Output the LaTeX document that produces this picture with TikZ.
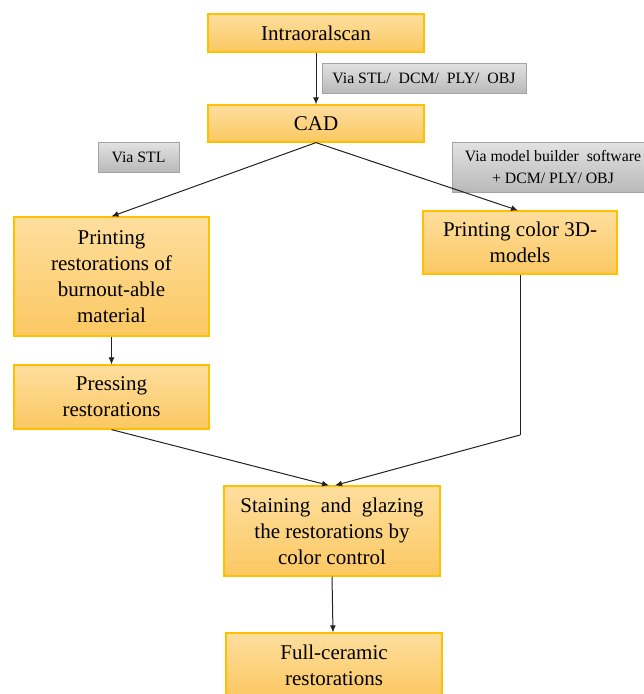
\documentclass[tikz,border=0pt]{standalone}
\usepackage{fontspec}
\newfontfamily\timesfont{Liberation Serif}
\usetikzlibrary{arrows.meta,calc}
\definecolor{boxtop}{HTML}{FEDE9E}
\definecolor{boxbot}{HTML}{FBC862}
\definecolor{boxline}{HTML}{FFC000}
\definecolor{graytop}{HTML}{E2E2E2}
\definecolor{graybot}{HTML}{B9B9B9}
\definecolor{grayline}{HTML}{A3A3A3}
\definecolor{arr}{HTML}{222222}
\tikzset{
  stepbox/.style={draw=boxline, line width=1.2pt, top color=boxtop, bottom color=boxbot,
    align=center, inner sep=2pt, font=\timesfont\fontsize{21}{26}\selectfont},
  tagbox/.style={draw=grayline, line width=1pt, top color=graytop, bottom color=graybot,
    align=center, inner sep=2pt, font=\timesfont\fontsize{15.8}{21.5}\selectfont},
  conn/.style={draw=arr, line width=1pt, -{Latex[length=7pt,width=6pt]}},
  plain/.style={draw=arr, line width=1pt}
}
\begin{document}
\begin{tikzpicture}[x=1pt,y=-1pt]
\useasboundingbox (0,0) rectangle (644,694);
\clip (0,0) rectangle (644,694);
\node[stepbox, minimum width=216pt, minimum height=38pt] (intra) at (316,33) {Intraoralscan};
\node[stepbox, minimum width=216pt, minimum height=37pt] (cad) at (316,123.5) {CAD};
\node[tagbox, minimum width=204pt, minimum height=30pt] (t1) at (424,78) {Via STL/\ \ DCM/\ \ PLY/\ \ OBJ};
\node[tagbox, minimum width=81pt, minimum height=30pt] (t2) at (138.5,157) {Via STL};
\node[tagbox, minimum width=202pt, minimum height=50pt] (t3) at (553,167) {Via model builder\ \ software\\+ DCM/\ PLY/\ OBJ};
\node[stepbox, minimum width=195pt, minimum height=119pt] (left) at (111.5,276.5) {Printing\\restorations of\\burnout-able\\material};
\node[stepbox, minimum width=194pt, minimum height=63pt] (right) at (520,242.5) {Printing color 3D-\\models};
\node[stepbox, minimum width=195pt, minimum height=64pt] (press) at (111.5,397) {Pressing\\restorations};
\node[stepbox, minimum width=216pt, minimum height=90pt] (stain) at (332,531) {Staining\ \ and\ \ glazing\\the restorations\ by\\color control};
\node[stepbox, minimum width=216pt, minimum height=64pt] (full) at (334,665) {Full-ceramic\\restorations};
\coordinate (bend) at (520,435);
\draw[conn] (intra.south) -- (cad.north);
\draw[conn] (cad.south) -- (left.north);
\draw[conn] (cad.south) -- ($(right.north)+(-2,0)$);
\draw[conn] (left.south) -- (press.north);
\draw[conn] (press.south) -- ($(stain.north)+(-3,0)$);
\draw[plain] (right.south) -- (bend);
\draw[conn] (bend) -- ($(stain.north)+(3,0)$);
\draw[conn] (stain.south) -- ($(full.north)+(-1,0)$);
\end{tikzpicture}
\end{document}
